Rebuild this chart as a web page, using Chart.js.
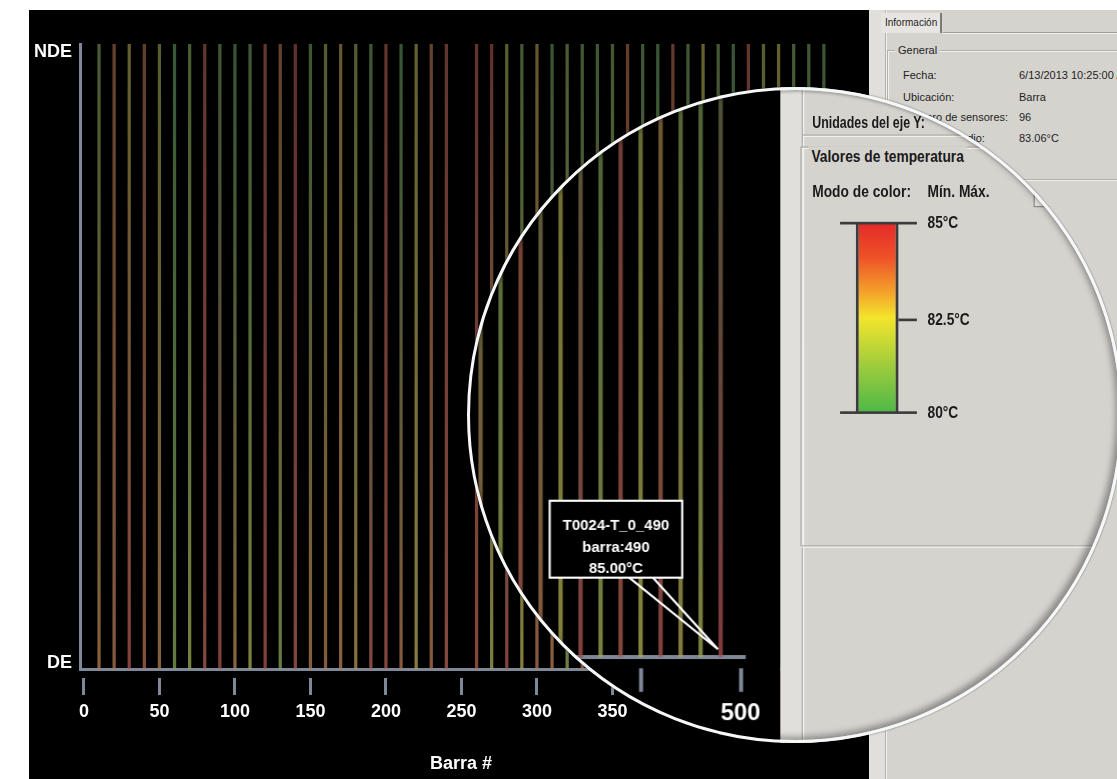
<!DOCTYPE html>
<html>
<head>
<meta charset="utf-8">
<script src="https://cdn.jsdelivr.net/npm/chart.js@4.4.1/dist/chart.umd.min.js"></script>
<style>
  html, body { margin: 0; padding: 0; background: #fff; }
  body { width: 1117px; height: 779px; position: relative; overflow: hidden; font-family: "Liberation Sans", Arial, sans-serif; }
  .scene { position: absolute; left: 0; top: 0; width: 1117px; height: 779px; }
  .plot { position: absolute; left: 29px; top: 10px; width: 840px; height: 769px; background: #000; }
  .plot canvas { position: absolute; left: 0; top: 0; }
  .panel { position: absolute; left: 869px; top: 10px; width: 262px; height: 769px; background: #d5d3ce; overflow: hidden; color: #1e1e1e; }
  .strip { position: absolute; left: 0; top: 0; width: 16px; height: 100%; background: #e0dfdb; border-right: 1px solid #b3b1ac; box-shadow: 1px 0 0 #f1f0ed; }
  .tab { position: absolute; left: 12px; top: 3px; width: 61px; height: 20px; line-height: 20px; font-size: 10px; padding-left: 4px; box-sizing: border-box; background: #e6e5e1; border-right: 2px solid #7c7a76; }
  .tabline { position: absolute; left: 74px; top: 22px; right: 0; height: 1px; background: #a19f9a; box-shadow: 0 1px 0 #efeeeb; }
  .group { position: absolute; border: 1px solid #b3b1ac; box-shadow: 1px 1px 0 #f1f0ed, inset 1px 1px 0 #f1f0ed; }
  .gtitle { position: absolute; background: #d5d3ce; padding: 0 3px; font-size: 11px; line-height: 14px; }
  .txt { position: absolute; font-size: 11px; line-height: 14px; white-space: nowrap; }
  .big { position: absolute; font-weight: bold; font-size: 13px; line-height: 16px; white-space: nowrap; color: #1a1a1a; transform-origin: 0 50%; transform: scaleX(0.8); }
  .hr { position: absolute; height: 1px; background: #b3b1ac; box-shadow: 0 1px 0 #f1f0ed; }
  .cbar { position: absolute; left: 57px; top: 332px; width: 32px; height: 143px; box-sizing: border-box; border-left: 2px solid #3c3c3c; border-right: 2px solid #3c3c3c;
          background: linear-gradient(to bottom, #e42a29 0%, #ee5128 18%, #f4a02a 36%, #f3e52c 50%, #a9cf3a 72%, #4db848 100%); }
  .cline { position: absolute; height: 2px; background: #3c3c3c; }
  .combo { position: absolute; left: 191px; top: 300px; width: 90px; height: 18px; background: #eceae6; border: 1px solid #8f8d88; }
  .lens { position: absolute; left: 467px; top: 87px; width: 656px; height: 656px; border-radius: 50%; overflow: hidden; }
  .lens .scene { left: -467px; top: -87px; transform-origin: 0 0; transform: translate(-371px, -230px) scale(1.325); }
  .ring { position: absolute; left: 467px; top: 87px; width: 656px; height: 656px; border-radius: 50%; box-sizing: border-box;
          border: 3px solid #f5f7f9; box-shadow: inset -4px -3px 6px rgba(0,0,0,0.35), inset 2px 2px 3px rgba(0,0,0,0.2), 0 0 2px rgba(0,0,0,0.6); }
</style>
</head>
<body>

<div class="scene">
  <div class="plot"><canvas id="main" width="840" height="769"></canvas></div>
  <div class="panel">
    <div class="strip"></div>
    <div class="tab">Información</div>
    <div class="tabline"></div>
    <div class="group" style="left:18px;top:40px;width:300px;height:128px"></div>
    <div class="gtitle" style="left:26px;top:33px">General</div>
    <div class="txt" style="left:34px;top:58px">Fecha:</div>
    <div class="txt" style="left:150px;top:58px">6/13/2013 10:25:00 AM</div>
    <div class="txt" style="left:34px;top:80px">Ubicación:</div>
    <div class="txt" style="left:150px;top:80px">Barra</div>
    <div class="txt" style="left:34px;top:100px">Número de sensores:</div>
    <div class="txt" style="left:150px;top:100px">96</div>
    <div class="txt" style="left:34px;top:121px">Temp. promedio:</div>
    <div class="txt" style="left:150px;top:121px">83.06°C</div>
  </div>
</div>

<div class="lens">
  <div class="scene">
    <div class="plot"><canvas id="zoom" width="840" height="769"></canvas></div>
    <div class="panel">
      <div class="strip"></div>
      <div class="big" style="left:24px;top:248px;transform:scaleX(0.72)">Unidades del eje Y:</div>
      <div class="hr" style="left:17px;top:265px;width:260px"></div>
      <div class="group" style="left:15px;top:274px;width:300px;height:300px"></div>
      <div class="big" style="left:21px;top:274px;background:#d5d3ce;padding:0 3px">Valores de temperatura</div>
      <div class="big" style="left:24px;top:300px">Modo de color:</div>
      <div class="big" style="left:111px;top:300px">Mín. Máx.</div>
      <div class="combo"></div>
      <div class="cbar"></div>
      <div class="cline" style="left:45px;top:331px;width:58px"></div>
      <div class="cline" style="left:45px;top:474px;width:58px"></div>
      <div class="cline" style="left:89px;top:404px;width:14px"></div>
      <div class="big" style="left:111px;top:324px">85°C</div>
      <div class="big" style="left:111px;top:397px">82.5°C</div>
      <div class="big" style="left:111px;top:467px">80°C</div>
    </div>
  </div>
</div>
<div class="ring"></div>

<script>
  // sensor positions along the bar (Barra #) and temperatures at both ends
  const sensorPos = [10, 20, 30, 40, 50, 60, 70, 80, 90, 100, 110, 120, 130, 140, 150, 160, 170, 180, 190, 200, 210, 220, 230, 240,
                     260, 270, 280, 290, 300, 310, 320, 330, 340, 350, 360, 370, 380, 390, 400, 410, 420, 430, 440, 450, 460, 470, 480, 490];
  const tempNDE = [81.5, 84.0, 82.6, 84.1, 82.0, 80.8, 81.5, 84.5, 81.0, 80.5, 81.0, 84.5, 84.0, 84.8, 81.0, 81.8, 83.0, 81.8, 81.0, 84.6, 80.6, 82.6, 84.0, 84.5,
                   84.6, 84.8, 82.0, 81.2, 83.0, 80.7, 81.5, 81.0, 81.0, 81.3, 84.2, 81.0, 80.6, 84.3, 81.0, 82.5, 81.2, 80.6, 84.5, 82.0, 82.6, 81.2, 81.0, 80.8];
  const tempDE = [83.8, 84.0, 84.8, 84.3, 83.8, 81.5, 82.0, 84.6, 84.8, 83.6, 82.2, 84.8, 81.6, 84.6, 83.8, 84.0, 83.8, 83.2, 84.5, 84.6, 84.0, 82.8, 84.0, 84.5,
                  84.6, 82.2, 84.8, 82.8, 84.0, 83.8, 81.8, 84.0, 84.6, 82.5, 84.7, 83.8, 82.3, 84.5, 84.0, 82.6, 84.8, 82.2, 84.6, 82.5, 84.8, 82.8, 82.2, 85.0];
  const xTicks = [0, 50, 100, 150, 200, 250, 300, 350, 400, 450, 500];
  const xTickLabels = ['0', '50', '100', '150', '200', '250', '300', '350', '', '', '500'];
  const yLabels = ['DE', 'NDE'];
  const probeSensor = 490;
  const probeName = 'T0024-T_0_490';

  const axisColor = '#7e8898';
  const font18 = { family: 'Liberation Sans, Arial, sans-serif', size: 18, weight: 'bold' };

  // colour scale 80..85 °C, green -> yellow -> red, dulled like the thin lines on screen
  const colorStops = [[80, [60, 180, 75]], [81.25, [140, 198, 63]], [82.5, [242, 229, 42]], [83.75, [245, 143, 42]], [85, [230, 50, 43]]];
  function tempColor(t, alpha) {
    let c = colorStops[colorStops.length - 1][1];
    for (let i = 0; i < colorStops.length - 1; i++) {
      const [t0, c0] = colorStops[i], [t1, c1] = colorStops[i + 1];
      if (t <= t1) {
        const f = Math.max(0, (t - t0) / (t1 - t0));
        c = c0.map((v, k) => v + (c1[k] - v) * f);
        break;
      }
    }
    const slate = [100, 112, 128];
    const m = c.map((v, k) => Math.round(v * 0.55 + slate[k] * 0.45));
    return `rgba(${m[0]},${m[1]},${m[2]},${alpha})`;
  }

  function barGradient(c) {
    const ch = c.chart, a = ch.chartArea;
    if (!a || c.dataIndex == null) return '#555';
    const g = ch.ctx.createLinearGradient(0, a.top, 0, a.bottom);
    g.addColorStop(0, tempColor(tempNDE[c.dataIndex], 0.55));
    g.addColorStop(1, tempColor(tempDE[c.dataIndex], 0.75));
    return g;
  }

  // the hover box pointing at one sensor (only in the magnified view)
  const probe = {
    id: 'probe',
    afterDraw(chart, args, opts) {
      if (!opts.show) return;
      const i = sensorPos.indexOf(probeSensor);
      const el = chart.getDatasetMeta(0).data[i];
      const ctx = chart.ctx;
      const tx = el.x - 2, ty = chart.scales.y.getPixelForValue(0) - 6;
      const bx = tx - 127, by = ty - 112, bw = 100, bh = 58;
      ctx.save();
      ctx.strokeStyle = '#fff';
      ctx.lineWidth = 1.6;
      ctx.beginPath();
      ctx.moveTo(bx + 60, by + bh); ctx.lineTo(tx, ty);
      ctx.moveTo(bx + 78, by + bh); ctx.lineTo(tx, ty);
      ctx.stroke();
      ctx.fillStyle = '#000';
      ctx.fillRect(bx, by, bw, bh);
      ctx.strokeRect(bx, by, bw, bh);
      ctx.fillStyle = '#fff';
      ctx.font = 'bold 11.3px "Liberation Sans", Arial, sans-serif';
      ctx.textAlign = 'center';
      ctx.textBaseline = 'middle';
      ctx.fillText(probeName, bx + bw / 2, by + 19);
      ctx.fillText('barra:' + probeSensor, bx + bw / 2, by + 35.5);
      ctx.fillText(tempDE[i].toFixed(2) + '°C', bx + bw / 2, by + 51);
      ctx.restore();
    }
  };

  function makeChart(id, dpr, showProbe) {
    return new Chart(document.getElementById(id), {
      type: 'bar',
      data: {
        datasets: [{
          data: sensorPos.map(p => ({ x: p, y: [0, 1] })),
          backgroundColor: barGradient,
          borderWidth: 0,
          barThickness: 2.6
        }]
      },
      options: {
        responsive: false,
        animation: false,
        devicePixelRatio: dpr,
        layout: { padding: { top: 34, right: 27, left: 0, bottom: 0 } },
        plugins: { legend: { display: false }, tooltip: { enabled: false }, probe: { show: showProbe } },
        scales: {
          x: {
            type: 'linear', min: -2.6, max: 502, offset: false,
            afterBuildTicks: s => { s.ticks = xTicks.map(v => ({ value: v })); },
            afterFit: s => { s.height = 110; },
            grid: { offset: false, drawOnChartArea: false, drawTicks: true, tickLength: 26, tickWidth: 3, tickColor: axisColor, tickBorderDash: [0, 7, 19, 40] },
            border: { color: axisColor, width: 3 },
            ticks: { color: '#fff', font: font18, padding: 6, maxRotation: 0, autoSkip: false,
                     callback: (v, i) => xTickLabels[xTicks.indexOf(v)] },
            title: { display: true, text: 'Barra #', color: '#fff', font: font18, padding: { top: 14 } }
          },
          y: {
            min: 0, max: 1,
            afterBuildTicks: s => { s.ticks = [{ value: 0.01 }, { value: 0.987 }]; },
            afterFit: s => { s.width = 51; },
            grid: { drawOnChartArea: false, drawTicks: false },
            border: { color: axisColor, width: 3 },
            ticks: { color: '#fff', font: font18, padding: 8, callback: v => yLabels[v > 0.5 ? 1 : 0] }
          }
        }
      },
      plugins: [probe]
    });
  }

  makeChart('main', 1, false);
  makeChart('zoom', 1.325, true);
</script>
</body>
</html>
